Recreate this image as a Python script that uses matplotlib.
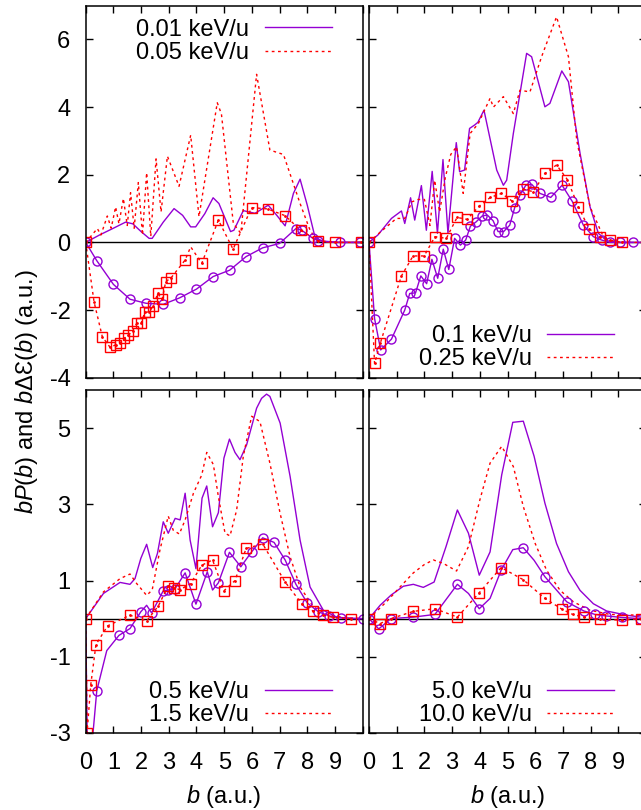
import numpy as np
import matplotlib
matplotlib.use('Agg')
import matplotlib.pyplot as plt

plt.rcParams['font.family'] = ['Liberation Sans', 'DejaVu Sans']
plt.rcParams['mathtext.fontset'] = 'custom'
plt.rcParams['mathtext.rm'] = 'Liberation Sans'
plt.rcParams['mathtext.it'] = 'Liberation Sans:italic'
plt.rcParams['axes.unicode_minus'] = False
plt.rcParams['font.size'] = 17

purple = '#9400d3'
red = '#ff0000'

# ---- 0.01 / 0.05 keV/u ----
b_p001 = [0, 0.5, 1.0, 1.44, 1.7, 2.0, 2.29, 2.4, 2.8, 3.19, 3.5, 3.79, 3.97, 4.3, 4.6, 4.81,
          5.23, 5.35, 5.69, 6.11, 6.59, 6.9, 7.2, 7.5, 7.74, 8.0, 8.28, 8.6, 9.0, 9.5, 10.0]
p001 = [0, 0.22, 0.42, 0.6, 0.55, 0.32, 0.12, 0.12, 0.6, 1.0, 0.8, 0.46, 0.46, 0.85, 1.32, 1.15,
        0.32, 0.36, 0.94, 0.86, 1.1, 0.8, 0.49, 1.45, 1.87, 1.1, 0.15, 0.02, 0, 0, 0]
b_p005 = [0, 0.42, 0.55, 0.78, 0.92, 1.08, 1.2, 1.36, 1.5, 1.62, 1.75, 1.9, 2.05, 2.2, 2.35, 2.54,
          2.72, 2.95, 3.37, 3.79, 4.09, 4.75, 4.9, 5.33, 5.6, 6.17, 6.65, 7.14, 7.74, 8.1, 8.34,
          8.7, 9.5, 10.0]
p005 = [0, 0.41, 0.22, 0.78, 0.42, 1.05, 0.55, 1.3, 0.5, 1.47, 0.42, 1.77, 0.22, 2.06, 0.18, 2.47,
        0.9, 2.55, 1.66, 3.17, 0.76, 4.13, 3.8, 0.56, 0.27, 4.97, 2.73, 2.6, 1.15, 0.36, 0.07,
        0.01, 0, 0]
b_e001 = [0, 0.4, 1.0, 1.6, 2.18, 2.8, 3.39, 4.0, 4.6, 5.2, 5.79, 6.39, 7.0, 7.59, 7.8, 8.2, 8.4,
          9.18, 9.9]
e001 = [0, -0.54, -1.24, -1.68, -1.8, -1.83, -1.64, -1.38, -1.01, -0.82, -0.42, -0.16, -0.03,
        0.41, 0.36, 0.12, 0.05, 0, 0]
e001_plain = []
b_e005 = [0, 0.3, 0.6, 0.88, 1.08, 1.24, 1.38, 1.54, 1.7, 1.84, 2.0, 2.13, 2.3, 2.44, 2.6, 2.76,
          2.89, 3.09, 3.59, 3.79, 4.19, 4.79, 5.32, 5.99, 6.57, 7.2, 7.76, 8.38, 9.0, 9.94]
e005 = [0, -1.75, -2.79, -3.1, -3.03, -2.97, -2.84, -2.74, -2.61, -2.39, -2.39, -2.07, -2.05,
        -1.87, -1.51, -1.68, -1.16, -1.04, -0.52, -0.13, -0.62, 0.66, -0.2, 1.03, 0.99, 0.79,
        0.36, 0.05, 0, 0]
e005_plain = [19]

# ---- 0.1 / 0.25 keV/u ----
b_p01 = [0, 0.32, 0.81, 1.17, 1.29, 1.5, 1.65, 1.89, 2.07, 2.28, 2.47, 2.67, 2.85, 3.15, 3.27,
         3.45, 3.63, 3.81, 3.93, 4.15, 4.61, 4.85, 4.97, 5.21, 5.69, 5.87, 6.35, 6.53, 6.96, 7.2,
         7.62, 7.98, 8.28, 8.58, 9.06, 10.0]
p01 = [0, 0.22, 0.71, 0.93, 0.56, 1.32, 0.66, 1.68, 0.36, 2.1, 0.27, 2.45, 0.27, 2.95, 2.09,
       2.14, 3.37, 3.47, 3.55, 3.91, 2.14, 1.69, 1.84, 3.22, 5.59, 5.49, 4.01, 4.11, 5.07, 4.75,
       2.63, 1.05, 0.27, 0.05, 0, 0]
b_p025 = [0, 0.4, 0.99, 1.29, 1.55, 1.77, 2.0, 2.2, 2.37, 2.55, 2.75, 2.95, 3.16, 3.4, 3.65,
          3.95, 4.37, 4.49, 4.85, 5.21, 5.45, 5.81, 6.23, 6.77, 7.2, 7.5, 7.98, 8.46, 8.82, 9.5,
          10.0]
p025 = [0, 0.3, 0.71, 0.71, 1.2, 1.27, 1.27, 0.5, 1.84, 0.9, 1.9, 2.6, 2.83, 1.45, 3.22, 3.52,
        4.26, 4.0, 4.31, 3.81, 4.5, 4.45, 5.49, 6.67, 5.49, 3.02, 1.05, 0.17, 0.02, 0, 0]
b_e01 = [0, 0.2, 0.42, 0.81, 1.29, 1.47, 1.68, 1.87, 2.08, 2.27, 2.48, 2.68, 2.88, 3.09, 3.3,
         3.49, 3.66, 3.87, 4.08, 4.27, 4.48, 4.66, 4.86, 5.08, 5.26, 5.45, 5.66, 5.87, 6.17, 6.56,
         6.97, 7.34, 7.74, 8.1, 8.4, 8.7, 9.06, 9.54]
e01 = [0, -2.25, -3.18, -2.86, -2.0, -1.51, -1.49, -0.99, -1.22, -0.5, -1.06, -0.2, -0.8, 0.12,
       -0.08, 0.07, 0.48, 0.61, 0.78, 0.81, 0.64, 0.32, 0.32, 0.51, 1.03, 1.4, 1.69, 1.72, 1.45,
       1.33, 1.69, 1.21, 0.51, 0.17, 0.07, 0, 0, 0]
e01_plain = []
b_e025 = [0, 0.2, 0.41, 1.17, 1.59, 1.99, 2.38, 2.79, 3.18, 3.54, 3.97, 4.38, 4.78, 5.17, 5.57,
          5.93, 6.35, 6.77, 7.16, 7.56, 7.94, 8.34, 8.7, 9.12]
e025 = [0, -3.58, -2.97, -0.99, -0.4, -0.4, 0.17, 0.12, 0.74, 0.68, 1.07, 1.33, 1.45, 1.22,
        1.57, 1.5, 2.04, 2.29, 1.86, 1.05, 0.41, 0.15, 0.07, 0]
e025_plain = []

# ---- 0.5 / 1.5 keV/u ----
b_p05 = [0, 0.64, 1.24, 1.6, 1.78, 1.99, 2.2, 2.42, 2.59, 2.8, 2.98, 3.23, 3.41, 3.59, 3.77,
         3.98, 4.2, 4.37, 4.58, 4.79, 4.99, 5.19, 5.39, 5.57, 5.81, 5.99, 6.17, 6.35, 6.53, 6.65,
         7.02, 7.38, 7.74, 8.1, 8.58, 9.06, 9.66, 10.0]
p05 = [0, 0.66, 0.95, 0.9, 1.05, 1.58, 1.95, 1.34, 1.71, 2.54, 2.24, 2.63, 2.59, 3.29, 2.06,
       1.31, 3.16, 3.48, 2.41, 2.78, 4.21, 4.71, 4.36, 4.17, 4.56, 5.04, 5.52, 5.78, 5.89, 5.83,
       5.13, 3.73, 2.06, 0.83, 0.22, 0.04, 0, 0]
b_p15 = [0, 0.64, 1.24, 1.6, 1.84, 2.2, 2.4, 2.68, 2.98, 3.16, 3.38, 3.59, 3.89, 4.19, 4.37,
         4.61, 4.79, 5.03, 5.21, 5.45, 5.69, 5.99, 6.29, 6.65, 7.02, 7.38, 7.74, 8.22, 8.7, 9.3,
         10.0]
p15 = [0, 0.7, 1.05, 1.17, 0.92, 0.61, 0.75, 1.8, 2.69, 2.32, 2.22, 2.59, 3.29, 3.77, 4.36,
       4.04, 3.2, 2.24, 2.17, 2.85, 4.26, 5.31, 5.17, 4.08, 2.76, 1.62, 0.83, 0.31, 0.11, 0.03, 0]
b_e05 = [0, 0.08, 0.4, 0.76, 1.2, 1.6, 1.99, 2.2, 2.38, 2.8, 2.98, 3.23, 3.59, 3.98, 4.39, 4.58,
         4.79, 5.19, 5.6, 5.99, 6.39, 6.8, 7.2, 7.59, 8.0, 8.4, 8.8, 9.2, 10.0]
e05 = [0, -4.5, -1.89, -0.84, -0.44, -0.26, 0.18, 0.35, 0.15, 0.73, 0.75, 0.79, 1.2, 0.38, 1.23,
       0.75, 0.94, 1.74, 1.36, 1.75, 2.12, 2.0, 1.54, 0.9, 0.41, 0.18, 0.07, 0.02, 0]
e05_plain = [0, 1, 3, 7, 15]
b_e15 = [0, 0.05, 0.18, 0.37, 0.79, 1.6, 2.2, 2.62, 2.98, 3.2, 3.41, 3.79, 4.19, 4.58, 4.99,
         5.39, 5.79, 6.39, 7.2, 7.8, 8.2, 8.58, 8.94, 9.58]
e15 = [0, -3.0, -1.75, -0.68, -0.19, 0.09, -0.06, 0.33, 0.86, 0.8, 0.76, 0.92, 1.4, 1.54, 0.73,
       1.0, 1.84, 1.96, 0.96, 0.39, 0.2, 0.09, 0.03, 0]
e15_plain = []

# ---- 5.0 / 10.0 keV/u ----
b_p50 = [0, 0.4, 0.8, 1.24, 1.6, 1.96, 2.35, 2.78, 3.19, 3.59, 3.98, 4.37, 4.79, 5.19, 5.57,
         5.96, 6.35, 6.77, 7.2, 7.62, 8.1, 8.58, 9.3, 9.8, 10.0]
p50 = [0, 0.35, 0.62, 0.85, 0.9, 0.82, 0.96, 1.89, 2.85, 2.24, 1.14, 1.75, 3.77, 5.15, 5.18,
       4.26, 3.03, 1.97, 1.23, 0.74, 0.39, 0.2, 0.09, 0.04, 0.03]
b_p100 = [0, 0.64, 1.12, 1.6, 2.0, 2.32, 2.68, 3.16, 3.59, 4.0, 4.37, 4.79, 5.21, 5.57, 6.0,
          6.41, 6.9, 7.38, 7.98, 8.7, 9.8, 10.0]
p100 = [0, 0.45, 0.83, 1.2, 1.42, 1.54, 1.45, 1.25, 1.89, 3.11, 4.08, 4.52, 3.99, 2.94, 1.97,
        1.27, 0.74, 0.44, 0.22, 0.11, 0.09, 0.08]
b_e50 = [0, 0.35, 0.79, 1.6, 2.38, 3.19, 3.59, 3.98, 4.37, 4.77, 5.19, 5.57, 5.96, 6.35, 7.14,
         7.76, 8.16, 8.56, 9.15, 9.78]
e50 = [0, -0.27, 0, 0.04, 0.11, 0.9, 0.66, 0.26, 0.53, 1.27, 1.81, 1.86, 1.53, 1.1, 0.44, 0.2,
       0.11, 0.07, 0.03, 0]
e50_plain = [6, 8, 10, 12]
b_e100 = [0, 0.4, 0.79, 1.6, 2.38, 3.19, 3.98, 4.77, 5.57, 6.35, 6.96, 7.35, 7.76, 8.34, 9.15,
          9.82]
e100 = [0, -0.13, 0, 0.19, 0.26, 0.04, 0.68, 1.34, 1.02, 0.53, 0.25, 0.11, 0.04, -0.02, -0.04, 0]
e100_plain = []

dots = (0, (2, 2.5))


def marks(n, plain):
    return [i for i in range(n) if i not in plain]


def panel(ax, p1, p2, e1, e2, labels, loc, anchor):
    ax.axhline(0, color='k', lw=1.0, zorder=1)
    ax.plot(p1[0], p1[1], color=purple, lw=1.0, label=labels[0])
    ax.plot(p2[0], p2[1], color=red, lw=1.0, ls=dots, label=labels[1])
    ax.plot(e1[0], e1[1], color=purple, lw=1.0, marker='o', ms=6.5, mfc='none', mew=1.0,
            markevery=marks(len(e1[0]), e1[2]))
    m2 = marks(len(e2[0]), e2[2])
    ax.plot(e2[0], e2[1], color=red, lw=1.0, ls=dots, marker='s', ms=6.5, mfc='none', mew=1.0,
            markevery=m2)
    ax.plot(e2[0], e2[1], ls='none', marker='.', ms=2, color=red, markevery=m2)
    ax.legend(loc=loc, bbox_to_anchor=anchor, frameon=False, markerfirst=False,
              handlelength=2.85, handletextpad=0.65, labelspacing=0.05, borderpad=0,
              borderaxespad=0, fontsize=17)
    ax.set_xlim(0, 10)
    ax.set_xticks(range(11))
    ax.tick_params(direction='in', length=5, width=1, top=True, right=True, labelsize=17)
    ax.tick_params(axis='x', pad=14)
    ax.tick_params(axis='y', pad=11)
    for s in ax.spines.values():
        s.set_linewidth(1.1)


fig = plt.figure(figsize=(6.41, 8.10), dpi=100)
ax1 = fig.add_axes([0.1337, 0.5337, 0.4321, 0.4593])
ax2 = fig.add_axes([0.5757, 0.5337, 0.4321, 0.4593])
ax3 = fig.add_axes([0.1337, 0.0951, 0.4321, 0.4235])
ax4 = fig.add_axes([0.5757, 0.0951, 0.4321, 0.4235])

panel(ax1, (b_p001, p001), (b_p005, p005), (b_e001, e001, e001_plain), (b_e005, e005, e005_plain),
      ['0.01 keV/u', '0.05 keV/u'], 'upper right', (0.889, 0.965))
panel(ax2, (b_p01, p01), (b_p025, p025), (b_e01, e01, e01_plain), (b_e025, e025, e025_plain),
      ['0.1 keV/u', '0.25 keV/u'], 'lower right', (0.885, 0.02))
panel(ax3, (b_p05, p05), (b_p15, p15), (b_e05, e05, e05_plain), (b_e15, e15, e15_plain),
      ['0.5 keV/u', '1.5 keV/u'], 'lower right', (0.889, 0.02))
panel(ax4, (b_p50, p50), (b_p100, p100), (b_e50, e50, e50_plain), (b_e100, e100, e100_plain),
      ['5.0 keV/u', '10.0 keV/u'], 'lower right', (0.885, 0.02))

for ax in (ax1, ax2):
    ax.set_ylim(-4, 7)
    ax.set_yticks([-4, -2, 0, 2, 4, 6])
    ax.tick_params(labelbottom=False)
for ax in (ax3, ax4):
    ax.set_ylim(-3, 6)
    ax.set_yticks([-3, -1, 1, 3, 5])
    ax.set_xticklabels([str(i) for i in range(10)] + [''])
    ax.set_xlabel(r'$b$ (a.u.)', fontsize=17, labelpad=6)
for ax in (ax2, ax4):
    ax.tick_params(labelleft=False)

fig.text(0.041, 0.516, r'$bP(b)$ and $b\Delta$Ɛ$(b)$ (a.u.)', rotation=90,
         ha='center', va='center', fontsize=17)

fig.savefig('out.png', dpi=100)
